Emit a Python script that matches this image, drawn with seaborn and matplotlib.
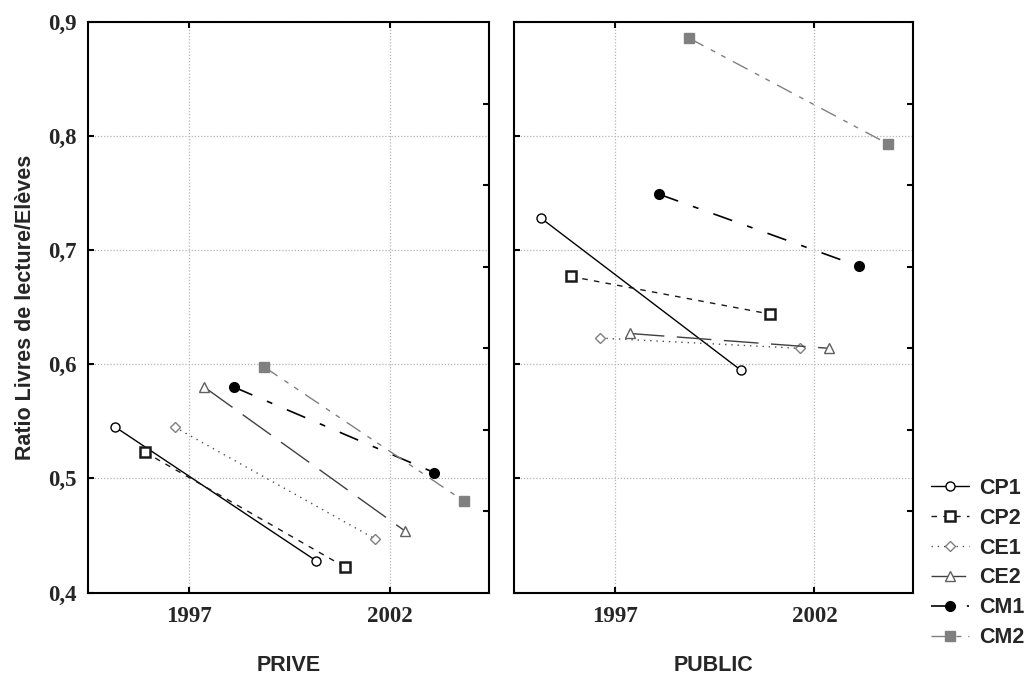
import numpy as np
import pandas as pd
import matplotlib
matplotlib.use("Agg")
import matplotlib.pyplot as plt
from matplotlib.ticker import FixedLocator, FuncFormatter
import seaborn as sns

# ---- data ----
series = ["CP1", "CP2", "CE1", "CE2", "CM1", "CM2"]
years = [1997, 2002]
panels = ["PRIVE", "PUBLIC"]
prive_1997 = [0.545, 0.523, 0.545, 0.580, 0.580, 0.598]
prive_2002 = [0.428, 0.422, 0.447, 0.454, 0.505, 0.480]
public_1997 = [0.728, 0.677, 0.623, 0.627, 0.749, 0.886]
public_2002 = [0.595, 0.644, 0.614, 0.614, 0.686, 0.793]
y_ticks = [0.4, 0.5, 0.6, 0.7, 0.8, 0.9]

values = {
    "PRIVE": {1997: prive_1997, 2002: prive_2002},
    "PUBLIC": {1997: public_1997, 2002: public_2002},
}

dodge_step = 0.74
rows = []
for p in panels:
    for i, s in enumerate(series):
        for yr in years:
            rows.append({"panel": p, "series": s, "year": yr,
                         "value": values[p][yr][i],
                         "xpos": yr + (i - (len(series) - 1) / 2) * dodge_step})
df = pd.DataFrame(rows)

styles = {
    "CP1": dict(color="black", marker="o", markersize=6.5, markerfacecolor="white",
                markeredgecolor="black", markeredgewidth=1.0, linestyle="-", linewidth=1.0),
    "CP2": dict(color="#1a1a1a", marker="s", markersize=7.5, markerfacecolor="white",
                markeredgecolor="#1a1a1a", markeredgewidth=1.8, linestyle=(0, (4, 4.5)), linewidth=1.0),
    "CE1": dict(color="#505050", marker="D", markersize=5, markerfacecolor="white",
                markeredgecolor="#808080", markeredgewidth=1.0, linestyle=(0, (1, 3.5)), linewidth=1.0),
    "CE2": dict(color="#404040", marker="^", markersize=6.5, markerfacecolor="white",
                markeredgecolor="#606060", markeredgewidth=1.0, linestyle=(0, (25, 9)), linewidth=1.0),
    "CM1": dict(color="black", marker="o", markersize=7, markerfacecolor="black",
                markeredgecolor="black", markeredgewidth=1.0, linestyle=(0, (12, 9.5, 3.5, 9.5)), linewidth=1.2),
    "CM2": dict(color="#808080", marker="s", markersize=7.5, markerfacecolor="#808080",
                markeredgecolor="#808080", markeredgewidth=1.0, linestyle=(0, (12, 6, 3.5, 5, 3.5, 6)), linewidth=1.0),
}

sns.set_style("white")
plt.rcParams["font.family"] = ["Liberation Serif", "DejaVu Serif"]
plt.rcParams["font.weight"] = "bold"

fig = plt.figure(figsize=(10.32, 6.76), dpi=100)
ax_l = fig.add_axes([88 / 1032, 1 - 592.5 / 676, 401 / 1032, 570.5 / 676])
ax_r = fig.add_axes([514 / 1032, 1 - 592.5 / 676, 399 / 1032, 570.5 / 676])

sans = "Liberation Sans"
for ax, p in zip([ax_l, ax_r], panels):
    sub_p = df[df["panel"] == p]
    for s in series:
        sub = sub_p[sub_p["series"] == s]
        sns.lineplot(data=sub, x="xpos", y="value", ax=ax, legend=False,
                     errorbar=None, label=s, **styles[s])
    ax.set_xlim(1994.47, 2004.47)
    ax.set_ylim(0.4, 0.9)
    ax.set_xticks(years)
    ax.set_yticks(y_ticks)
    ax.yaxis.set_minor_locator(FixedLocator([0.4 + k / 14 for k in range(1, 7)]))
    ax.grid(True, which="major", color="#b5b5b5", linestyle=(0, (1, 1.5)), linewidth=0.9)
    ax.set_axisbelow(True)
    for sp in ax.spines.values():
        sp.set_color("black")
        sp.set_linewidth(1.5)
        sp.set_visible(True)
    ax.tick_params(which="major", direction="in", length=4, width=1.5, color="black",
                   left=True, right=False, bottom=True, top=True, labelsize=16.5)
    ax.tick_params(which="minor", direction="in", length=4, width=1.5, color="black",
                   left=False, right=True, bottom=False, top=False)
    ax.tick_params(axis="x", pad=10)
    ax.tick_params(axis="y", pad=8)
    ax.set_xlabel(p, fontfamily=sans, fontweight="bold", fontsize=15.5, labelpad=20)
    ax.set_ylabel("")
    if ax.get_legend() is not None:
        ax.get_legend().remove()

ax_l.yaxis.set_major_formatter(FuncFormatter(lambda v, pos: f"{v:.1f}".replace(".", ",")))
ax_r.tick_params(axis="y", labelleft=False)
ax_l.set_ylabel("Ratio Livres de lecture/Elèves", fontfamily=sans, fontweight="bold",
                fontsize=15.5, labelpad=9)

handles, labels = ax_r.get_legend_handles_labels()
fig.legend(handles, labels, loc="upper left", bbox_to_anchor=(931 / 1032, 1 - 478 / 676),
           frameon=False, prop={"family": sans, "weight": "bold", "size": 15.5},
           handlelength=1.75, handletextpad=0.5, labelspacing=0.41, borderpad=0,
           borderaxespad=0, numpoints=1)

fig.savefig("out.png", dpi=100, facecolor="white")
